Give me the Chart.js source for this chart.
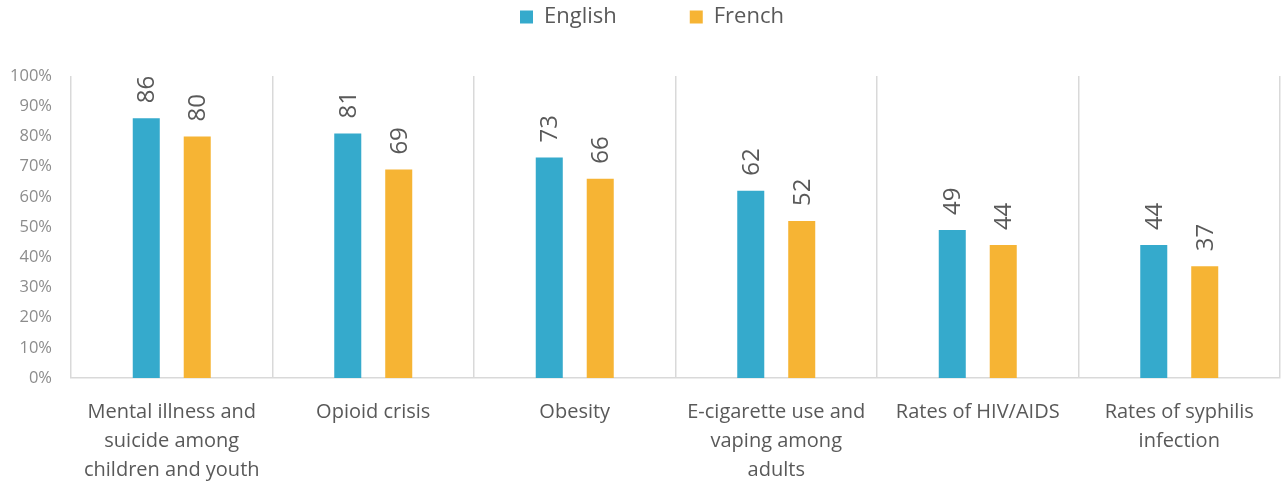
<!DOCTYPE html>
<html>
<head>
<meta charset="utf-8">
<script src="https://cdn.jsdelivr.net/npm/chart.js@4.4.1/dist/chart.umd.min.js"></script>
<style>
    html, body { margin: 0; padding: 0; background: #ffffff; }
    #wrap { width: 1288px; height: 481px; position: relative; }
</style>
</head>
<body>
<div id="wrap"><canvas id="chart"></canvas></div>
<script>
// Data
const categories = [
    ['Mental illness and', 'suicide among', 'children and youth'],
    'Opioid crisis',
    'Obesity',
    ['E-cigarette use and', 'vaping among', 'adults'],
    'Rates of HIV/AIDS',
    ['Rates of syphilis', 'infection']
];
const englishValues = [86, 81, 73, 62, 49, 44];
const frenchValues = [80, 69, 66, 52, 44, 37];
const seriesNames = ['English', 'French'];

const FONT = '"Open Sans", Lato, sans-serif';

// Label angka vertikal di atas bar
const barValueLabels = {
    id: 'barValueLabels',
    afterDatasetsDraw(chart) {
        const ctx = chart.ctx;
        ctx.save();
        ctx.font = '24px ' + FONT;
        ctx.fillStyle = '#595959';
        ctx.textAlign = 'left';
        ctx.textBaseline = 'middle';
        chart.data.datasets.forEach((ds, i) => {
            chart.getDatasetMeta(i).data.forEach((bar, j) => {
                ctx.save();
                ctx.translate(bar.x + 1, bar.y - 15);
                ctx.rotate(-Math.PI / 2);
                ctx.fillText(ds.data[j], 0, 0);
                ctx.restore();
            });
        });
        ctx.restore();
    }
};

// Legend: jarak antar item lebar, tapi tetap di atas
const legendSpacing = {
    id: 'legendSpacing',
    beforeLayout(chart) {
        const legend = chart.legend;
        if (!legend || legend._patched) return;
        const origFit = legend.fit;
        legend.fit = function () {
            origFit.call(this);
            this.height = 76;
        };
        legend._patched = true;
    },
    afterLayout(chart) {
        chart.legend.top = -67;
        chart.legend.left += 12;
        chart.legend.right += 12;
    }
};

const ctx = document.getElementById('chart').getContext('2d');
new Chart(ctx, {
    type: 'bar',
    data: {
        labels: categories,
        datasets: [{
            label: seriesNames[0],
            data: englishValues,
            backgroundColor: '#35aacc',
            categoryPercentage: 0.506,
            barPercentage: 0.53
        }, {
            label: seriesNames[1],
            data: frenchValues,
            backgroundColor: '#f6b434',
            categoryPercentage: 0.506,
            barPercentage: 0.53
        }]
    },
    options: {
        responsive: true,
        maintainAspectRatio: false,
        animation: false,
        layout: {
            padding: { left: 0, right: 8, top: 0, bottom: 0 }
        },
        plugins: {
            legend: {
                position: 'top',
                labels: {
                    boxWidth: 13,
                    boxHeight: 13,
                    padding: 73,
                    color: '#595959',
                    font: { family: FONT, size: 22 }
                }
            },
            tooltip: { enabled: false }
        },
        scales: {
            x: {
                grid: {
                    display: true,
                    offset: true,
                    color: '#d9d9d9',
                    lineWidth: 1.5,
                    drawTicks: false
                },
                border: { display: true, color: '#d9d9d9', width: 1.5 },
                ticks: {
                    color: '#595959',
                    font: { family: FONT, size: 20, lineHeight: 1.45 },
                    padding: 20,
                    maxRotation: 0,
                    autoSkip: false
                },
                afterFit(scale) {
                    scale.height = 103;
                }
            },
            y: {
                min: 0,
                max: 100,
                grid: { display: false, drawTicks: false },
                border: { display: false },
                ticks: {
                    stepSize: 10,
                    color: '#8c8c8c',
                    padding: 19,
                    font: { family: FONT, size: 16.5 },
                    callback: value => value + '%'
                },
                afterFit(scale) {
                    scale.width = 71;
                }
            }
        }
    },
    plugins: [barValueLabels, legendSpacing]
});
</script>
</body>
</html>
